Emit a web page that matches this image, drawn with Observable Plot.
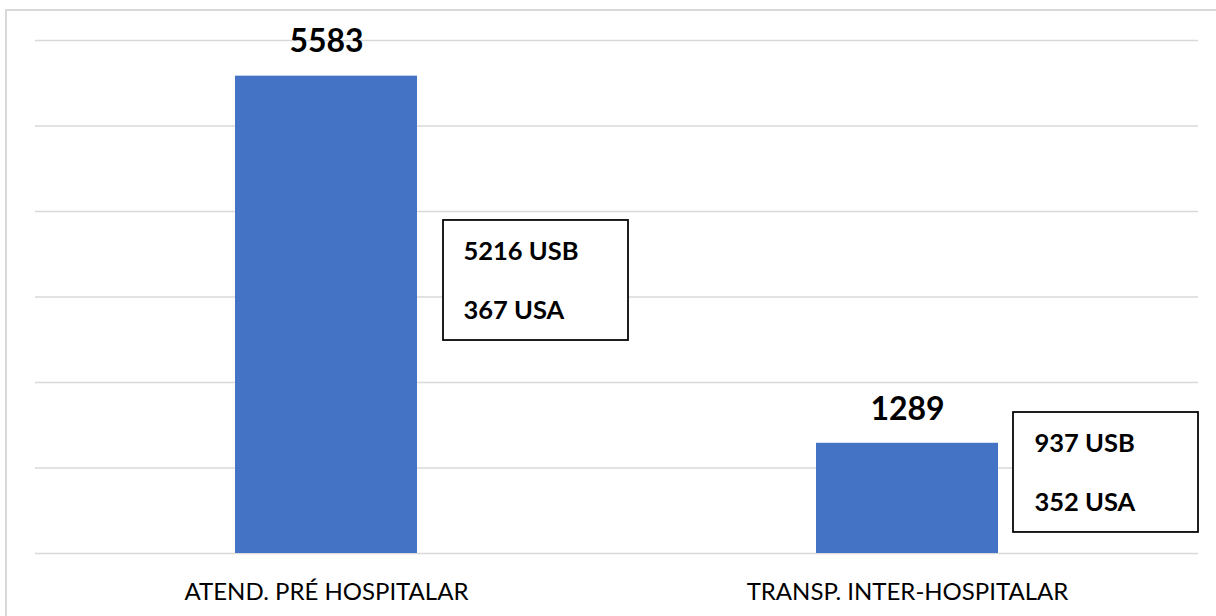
<!DOCTYPE html>
<html>
<head>
<meta charset="utf-8">
<script src="https://cdn.jsdelivr.net/npm/d3@7"></script>
<script src="https://cdn.jsdelivr.net/npm/@observablehq/plot@0.6"></script>
<style>
  html, body { margin: 0; padding: 0; background: #fff; overflow: hidden; width: 1216px; height: 616px; }
  #frame { position: absolute; left: 5px; top: 9px; width: 1300px; height: 700px; border: 2px solid #d9d9d9; box-sizing: border-box; }
  #chart { position: absolute; left: 0; top: 0; }
</style>
</head>
<body>
<div id="frame"></div>
<div id="chart"></div>
<script>
// Data
const categories = ["ATEND. PRÉ HOSPITALAR", "TRANSP. INTER-HOSPITALAR"];
const totals = [5583, 1289];
const usbCounts = [5216, 937];
const usaCounts = [367, 352];
const gridValues = [0, 1000, 2000, 3000, 4000, 5000, 6000];
// annotation callout anchors (in value units)
const boxTop = [3895, 1649];
const boxBottom = [2491, 246];
const lineUSB = [3532, 1287];
const lineUSA = [2836, 591];

const bars = categories.map((c, i) => ({category: c, value: totals[i]}));
const boxes = categories.map((c, i) => ({
  category: c, top: boxTop[i], bottom: boxBottom[i],
  usb: `${usbCounts[i]} USB`, usa: `${usaCounts[i]} USA`,
  yUSB: lineUSB[i], yUSA: lineUSA[i]
}));

const boxDx = [208, 197];
const textDx = [137, 127];

const boxMarks = boxes.flatMap((b, i) => [
  Plot.barY([b], {x: "category", y1: "bottom", y2: "top", fill: "white", stroke: "black", strokeWidth: 1.75, dx: boxDx[i], insetLeft: 0, insetRight: -3}),
  Plot.text([b], {x: "category", y: "yUSB", text: "usb", dx: textDx[i], textAnchor: "start", fontWeight: "bold", fontSize: 25.5, fill: "black"}),
  Plot.text([b], {x: "category", y: "yUSA", text: "usa", dx: textDx[i], textAnchor: "start", fontWeight: "bold", fontSize: 25.5, fill: "black"})
]);

const chart = Plot.plot({
  width: 1216,
  height: 616,
  marginLeft: 35,
  marginRight: 18,
  marginTop: 40,
  marginBottom: 63,
  style: {fontFamily: "Lato, 'Open Sans', sans-serif", color: "black", background: "transparent"},
  x: {domain: categories, paddingInner: 0.687, paddingOuter: 0.3435, label: null},
  y: {domain: [0, 6000], axis: null},
  marks: [
    Plot.ruleY(gridValues, {stroke: "#d9d9d9", strokeWidth: 1.5}),
    Plot.barY(bars, {x: "category", y: "value", fill: "#4472C4"}),
    Plot.text(bars, {x: "category", y: "value", text: d => String(d.value), dy: -34, fontWeight: "bold", fontSize: 32, fill: "black"}),
    ...boxMarks,
    Plot.axisX({tickSize: 0, tickPadding: 29, fontSize: 24, label: null})
  ]
});
document.getElementById("chart").appendChild(chart);
</script>
</body>
</html>
